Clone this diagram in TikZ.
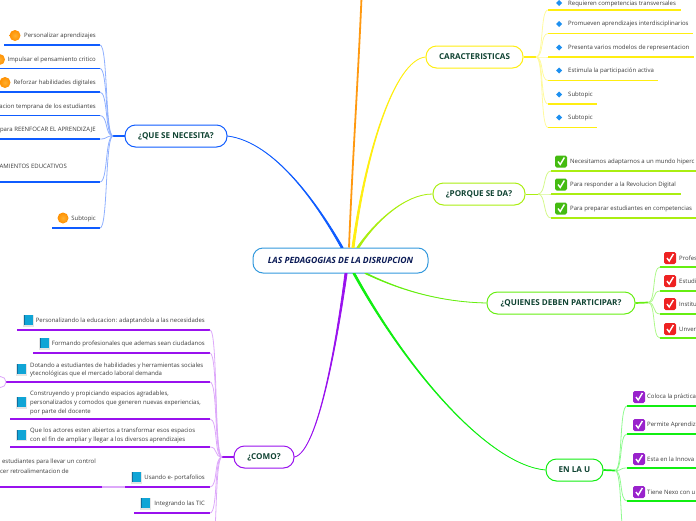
\documentclass[tikz,border=0pt]{standalone}
\usepackage{fontspec}
\setmainfont{Open Sans}
\usetikzlibrary{calc}
\definecolor{cNeed}{HTML}{0F5CFF}\definecolor{cNeedL}{HTML}{8FB0FF}
\definecolor{cCar}{HTML}{FFEE11}\definecolor{cCarL}{HTML}{FFFA9E}
\definecolor{cPor}{HTML}{AAEE11}\definecolor{cPorL}{HTML}{D4F88A}
\definecolor{cQui}{HTML}{66EE11}\definecolor{cQuiL}{HTML}{AEF88A}
\definecolor{cEnu}{HTML}{11EE11}\definecolor{cEnuL}{HTML}{90FA90}
\definecolor{cCom}{HTML}{9911EE}\definecolor{cComL}{HTML}{DDA8FA}
\definecolor{cOra}{HTML}{FF9911}
\definecolor{cTxt}{HTML}{3A3A3A}
\definecolor{cHead}{HTML}{114433}
\definecolor{cCen}{HTML}{0A1A55}
\definecolor{cRoot}{HTML}{3399DD}
\definecolor{cBallA}{HTML}{FFB030}\definecolor{cBallB}{HTML}{FF9000}
\definecolor{cGem}{HTML}{1E90F0}
\definecolor{cChkG}{HTML}{44BB11}\definecolor{cChkR}{HTML}{EE2222}\definecolor{cChkP}{HTML}{9922CC}
\definecolor{cBook}{HTML}{10A5D6}\definecolor{cBookD}{HTML}{0E6FA0}
\tikzset{
  topic/.style={rounded corners=10.5pt,line width=1pt,fill=white,minimum height=22pt,inner sep=0pt,text=cHead,font=\fontsize{8.1}{9}\selectfont\bfseries},
  centre/.style={rounded corners=10pt,line width=1pt,draw=#1,fill=white,minimum height=25pt,minimum width=175pt,inner sep=0pt,text=cCen,font=\fontsize{8.6}{9}\selectfont\bfseries\itshape},
  lbl/.style={inner sep=0pt,text=cTxt,font=\fontsize{6}{8.6}\selectfont,align=left},
  under/.style={line width=1.2pt,draw=#1},
  fan/.style={line width=.8pt,draw=#1},
  stem/.style={line width=1.7pt,draw=#1}
}
% tapered branch: colour, end at centre, control 1 (centre side), control 2, end at topic
\newcommand{\branch}[6]{%
  \path[fill=#1,draw=#1,line width=.8pt,line join=round]
   ($(#2)+(#6,0)$) .. controls ($(#3)+(#6*.35,0)$) and ($(#4)+(#6*.05,0)$) .. (#5)
   .. controls ($(#4)-(#6*.05,0)$) and ($(#3)-(#6*.35,0)$) .. ($(#2)-(#6,0)$) -- cycle;}
\newcommand{\lfL}[7]{% hub, name, far x, near x, y, dark, light
  \coordinate (#2) at (#4,#5);
  \draw[under=#6] (#3,#5) -- (#2);
  \draw[fan=#7] (#1) .. controls +(-8,0) and +(8,0) .. (#2);}
\newcommand{\lfR}[7]{%
  \coordinate (#2) at (#4,#5);
  \draw[under=#6] (#2) -- (#3,#5);
  \draw[fan=#7] (#1) .. controls +(8,0) and +(-8,0) .. (#2);}
\newcommand{\ball}[2]{\shade[inner color=cBallA,outer color=cBallB] (#1,#2) circle (5.5pt);}
\newcommand{\gem}[2]{\fill[cGem] (#1-3,#2) -- (#1,#2-3) -- (#1+3,#2) -- (#1,#2+3) -- cycle;}
\newcommand{\chk}[3]{\fill[#3,rounded corners=1.6pt] (#1-6,#2-6) rectangle (#1+6,#2+6);
  \draw[white,line width=1.4pt] (#1-3,#2) -- (#1-.8,#2+3) -- (#1+3.4,#2-4);}
\newcommand{\book}[2]{\fill[black!10] (#1-5,#2-5) rectangle (#1+5.5,#2+6.5);
  \fill[cBook] (#1-4.5,#2-5) rectangle (#1+4.5,#2+5);
  \fill[cBookD] (#1-4.5,#2-5) rectangle (#1-3.2,#2+5);}
\begin{document}
\begin{tikzpicture}[x=1pt,y=-1pt]
\useasboundingbox (0,0) rectangle (696,520);
\clip (0,0) rectangle (696,520);
% topics
\node[centre=cRoot] (root) at (340.5,260.5) {LAS PEDAGOGIAS DE LA DISRUPCION};
\node[topic,draw=cNeed,minimum width=102pt] (need) at (176,136) {¿QUE SE NECESITA?};
\node[topic,draw=cCar,minimum width=97pt] (car) at (474.5,57) {CARACTERISTICAS};
\node[topic,draw=cPor,minimum width=92pt] (por) at (479,194) {¿PORQUE SE DA?};
\node[topic,draw=cQui,minimum width=148pt] (qui) at (561,303) {¿QUIENES DEBEN PARTICIPAR?};
\node[topic,draw=cEnu,minimum width=57pt] (enu) at (574.5,470) {EN LA U};
\node[topic,draw=cCom,minimum width=60pt] (com) at (264,457) {¿COMO?};
% main branches
\coordinate (aNeed) at (342,247.5);
\coordinate (aOra) at (349,247.5);
\coordinate (aCar) at (353,247.5);
\coordinate (aPor) at (358,247.5);
\coordinate (aQui) at (366,273.5);
\coordinate (aEnu) at (354,273.5);
\coordinate (aCom) at (346,273.5);
\coordinate (topOff) at (361.5,-2);
\branch{cNeed}{aNeed}{318,205}{275,142}{need.east}{1.1}
\draw[cOra,line width=1.8pt] (aOra) .. controls (352,170) and (358,80) .. (topOff);
\branch{cCar}{aCar}{366,150}{395,60}{car.west}{1.1}
\branch{cPor}{aPor}{375,222}{405,194}{por.west}{1.1}
\branch{cQui}{aQui}{400,290}{440,302}{qui.west}{1.1}
\branch{cEnu}{aEnu}{410,375}{490,465}{enu.west}{1.1}
\branch{cCom}{aCom}{337,340}{318,452}{com.east}{1.1}
% hubs
\coordinate (hNeed) at (113,136);
\coordinate (hCar) at (536,57);
\coordinate (hPor) at (538,194);
\coordinate (hQui) at (648,302.5);
\coordinate (hEnu) at (615,470.5);
\coordinate (hCom) at (222,457);
\draw[stem=cNeed] (need.west) -- (hNeed);
\draw[stem=cCar] (car.east) -- (hCar);
\draw[line width=1pt,draw=cPor] (por.east) -- (hPor);
\draw[stem=cQui] (qui.east) -- (hQui);
\draw[stem=cEnu] (enu.east) -- (hEnu);
\draw[stem=cCom] (com.west) -- (hCom);
% QUE SE NECESITA
\lfL{hNeed}{n1}{4}{100}{45}{cNeed}{cNeedL}
\lfL{hNeed}{n2}{-2}{100}{68.5}{cNeed}{cNeedL}
\lfL{hNeed}{n3}{-2}{100}{92}{cNeed}{cNeedL}
\lfL{hNeed}{n4}{-2}{100}{115.5}{cNeed}{cNeedL}
\lfL{hNeed}{n5}{-2}{100}{139}{cNeed}{cNeedL}
\lfL{hNeed}{n6}{-2}{100}{182}{cNeed}{cNeedL}
\lfL{hNeed}{n7}{52}{100}{228}{cNeed}{cNeedL}
\ball{15}{35.5}\ball{-0.5}{59.5}\ball{5}{82.5}\ball{63}{218}
\node[lbl,anchor=east] (tn1) at (96,36) {Personalizar aprendizajes};
\node[lbl,anchor=east] (tn2) at (96,60) {Impulsar el pensamiento critico};
\node[lbl,anchor=east] (tn3) at (96,83) {Reforzar habilidades digitales};
\node[lbl,anchor=east] (tn4) at (96,107) {acion temprana de los estudiantes};
\node[lbl,anchor=east] (tn5) at (96,130) {para REENFOCAR EL APRENDIZAJE};
\node[lbl,anchor=east] (tn6) at (67,166) {AMIENTOS EDUCATIVOS};
\node[lbl,anchor=east] (tn7) at (96,218.5) {Subtopic};
% CARACTERISTICAS
\lfR{hCar}{c1}{681}{548}{10}{cCar}{cCarL}
\lfR{hCar}{c2}{693}{548}{33.5}{cCar}{cCarL}
\lfR{hCar}{c3}{694}{548}{57}{cCar}{cCarL}
\lfR{hCar}{c4}{658}{548}{80.5}{cCar}{cCarL}
\lfR{hCar}{c5}{597}{548}{104}{cCar}{cCarL}
\lfR{hCar}{c6}{597}{548}{127.5}{cCar}{cCarL}
\gem{559}{3}\gem{559}{24}\gem{559}{47.5}\gem{559}{70.5}\gem{559}{94.5}\gem{559}{117.5}
\node[lbl,anchor=west] (tc1) at (568,3.8) {Requieren competencias transversales};
\node[lbl,anchor=west] (tc2) at (568,24) {Promueven aprendizajes interdisciplinarios};
\node[lbl,anchor=west] (tc3) at (568,47.5) {Presenta varios modelos de representacion};
\node[lbl,anchor=west] (tc4) at (568,70.5) {Estimula la participación activa};
\node[lbl,anchor=west] (tc5) at (568,94.5) {Subtopic};
\node[lbl,anchor=west] (tc6) at (568,117.5) {Subtopic};
% PORQUE
\lfR{hPor}{p1}{698}{551}{171}{cPor}{cPorL}
\lfR{hPor}{p2}{681}{551}{194}{cPor}{cPorL}
\lfR{hPor}{p3}{698}{551}{218}{cPor}{cPorL}
\chk{561}{161.5}{cChkG}\chk{561}{184.5}{cChkG}\chk{561}{208.5}{cChkG}
\node[lbl,anchor=west] (tp1) at (570,161.5) {Necesitamos adaptarnos a un mundo hiperc};
\node[lbl,anchor=west] (tp2) at (570,184.5) {Para responder a la Revolucion Digital};
\node[lbl,anchor=west] (tp3) at (570,208.5) {Para preparar estudiantes en competencias};
% QUIENES
\lfR{hQui}{q1}{698}{660}{267}{cQui}{cQuiL}
\lfR{hQui}{q2}{698}{660}{291}{cQui}{cQuiL}
\lfR{hQui}{q3}{698}{660}{314}{cQui}{cQuiL}
\lfR{hQui}{q4}{698}{660}{338}{cQui}{cQuiL}
\chk{670}{258}{cChkR}\chk{670}{281}{cChkR}\chk{670}{304}{cChkR}\chk{670}{329}{cChkR}
\node[lbl,anchor=west] (tq1) at (679,258) {Profes};
\node[lbl,anchor=west] (tq2) at (679,281) {Estudi};
\node[lbl,anchor=west] (tq3) at (679,304) {Institu};
\node[lbl,anchor=west] (tq4) at (679,329) {Unver};
% EN LA U
\lfR{hEnu}{e1}{698}{627}{406}{cEnu}{cEnuL}
\lfR{hEnu}{e2}{698}{627}{434}{cEnu}{cEnuL}
\lfR{hEnu}{e3}{698}{627}{468}{cEnu}{cEnuL}
\lfR{hEnu}{e4}{698}{627}{501}{cEnu}{cEnuL}
\lfR{hEnu}{e5}{698}{627}{545}{cEnu}{cEnuL}
\chk{639}{397}{cChkP}\chk{639}{425}{cChkP}\chk{639}{459}{cChkP}\chk{639}{492}{cChkP}
\node[lbl,anchor=west] (te1) at (647,397) {Coloca la práctica};
\node[lbl,anchor=west] (te2) at (647,425) {Permite Aprendiz};
\node[lbl,anchor=west] (te3) at (647,459) {Esta en la Innova};
\node[lbl,anchor=west] (te4) at (647,492) {Tiene Nexo con u};
% COMO
\lfL{hCom}{m1}{17}{210}{330}{cCom}{cComL}
\lfL{hCom}{m2}{33}{210}{353}{cCom}{cComL}
\lfL{hCom}{m3}{6}{210}{382}{cCom}{cComL}
\lfL{hCom}{m4}{10}{210}{419}{cCom}{cComL}
\lfL{hCom}{m5}{10}{210}{447}{cCom}{cComL}
\lfL{hCom}{m6}{125}{210}{487}{cCom}{cComL}
\lfL{hCom}{m7}{134}{210}{513}{cCom}{cComL}
\lfL{hCom}{m8}{134}{210}{560}{cCom}{cComL}
\coordinate (m6a) at (125,487);
\coordinate (m6b) at (102,487);
\draw[line width=1.2pt,draw=cComL] (m6a) -- (m6b);
\draw[under=cCom] (m6b) -- (-2,487);
\draw[draw=cComL,line width=.8pt,fill=white] (0.5,382) circle (5.5pt);
\book{28}{320}\book{44}{343}\book{21}{369}\book{21}{402}\book{21}{434.5}\book{136}{477}\book{145}{503}
\node[lbl,anchor=east] (tm1) at (205,321) {Personalizando la educacion: adaptandola a las necesidades};
\node[lbl,anchor=east] (tm2) at (205,344) {Formando profesionales que ademas sean ciudadanos};
\node[lbl,anchor=west] (tm3) at (30,370) {Dotando a estudiantes de habilidades y herramientas sociales\\ytecnológicas que el mercado laboral demanda};
\node[lbl,anchor=west] (tm4) at (30,403) {Construyendo y propiciando espacios  agradables,\\personalizados y comodos que generen nuevas experiencias,\\por parte del docente};
\node[lbl,anchor=west] (tm5) at (30,435.5) {Que los actores esten abiertos a transformar esos espacios\\con el fin de ampliar y llegar a los diversos aprendizajes};
\node[lbl,anchor=east] (tm6) at (205,478) {Usando e- portafolios};
\node[lbl,anchor=east] (tm7) at (205,504) {Integrando las TIC};
\node[lbl,anchor=east] (tm8) at (96,462) {estudiantes para llevar un control};
\node[lbl,anchor=east] (tm9) at (69,471) {cer retroalimentacion de};
\end{tikzpicture}
\end{document}
